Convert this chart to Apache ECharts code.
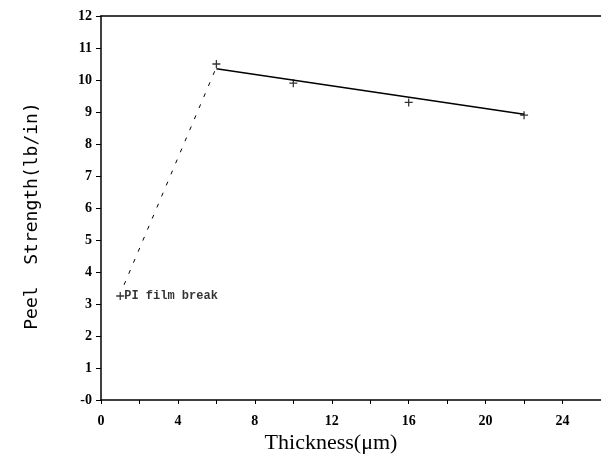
<!DOCTYPE html>
<html>
<head>
<meta charset="utf-8">
<script src="https://cdn.jsdelivr.net/npm/echarts@6/dist/echarts.min.js"></script>
<style>
  html, body { margin: 0; padding: 0; background: #fff; }
  #main { width: 601px; height: 466px; }
</style>
</head>
<body>
<div id="main"></div>
<script>
// measured points (thickness um, peel strength lb/in)
var thickness = [1, 6, 10, 16, 22];
var peel = [3.25, 10.5, 9.9, 9.3, 8.9];
// fitted line and the dashed guide
var fitX = [6, 22];
var fitY = [10.35, 8.93];
var dashX = [1.2, 6];
var dashY = [3.6, 10.4];
var noteText = 'PI film break';

function pairs(xs, ys) {
    var out = [];
    for (let i = 0; i < xs.length; i++) {
        out.push([xs[i], ys[i]]);
    }
    return out;
}

var myChart = echarts.init(document.getElementById('main'));
var labelFont = { fontFamily: 'Liberation Serif', fontWeight: 'bold', fontSize: 14, color: '#000' };

myChart.setOption({
    animation: false,
    grid: { left: 101, right: 0, top: 16, bottom: 66, outerBoundsMode: 'none' },
    xAxis: [{
        type: 'value',
        min: 0,
        max: 26,
        interval: 4,
        name: 'Thickness(\u03bcm)',
        nameLocation: 'middle',
        nameGap: 32,
        nameMoveOverlap: false,
        nameTextStyle: { fontFamily: 'Liberation Serif', fontSize: 22, color: '#000', padding: [0, 40, 0, 0] },
        axisLine: { lineStyle: { color: '#000', width: 1.5 } },
        axisTick: { inside: false, length: 4, lineStyle: { color: '#000' } },
        minorTick: { show: true, splitNumber: 2, length: 4, lineStyle: { color: '#000' } },
        axisLabel: Object.assign({ margin: 14, showMaxLabel: false }, labelFont),
        splitLine: { show: false }
    }, {
        type: 'value',
        position: 'top',
        min: 0,
        max: 26,
        axisLine: { show: true, lineStyle: { color: '#000', width: 1.5 } },
        axisTick: { show: false },
        axisLabel: { show: false },
        splitLine: { show: false }
    }],
    yAxis: {
        type: 'value',
        min: 0,
        max: 12,
        interval: 1,
        name: 'Peel  Strength(lb/in)',
        nameLocation: 'middle',
        nameGap: 60,
        nameMoveOverlap: false,
        nameTextStyle: { fontFamily: 'DejaVu Sans Mono', fontSize: 18, color: '#000', padding: [0, 16, 0, 0] },
        axisLine: { show: true, lineStyle: { color: '#000', width: 1.5 } },
        axisTick: { show: true, length: 5, lineStyle: { color: '#000' } },
        axisLabel: Object.assign({
            margin: 9,
            formatter: function (v) { return v === 0 ? '-0' : String(v); }
        }, labelFont),
        splitLine: { show: false }
    },
    series: [{
        type: 'line',
        data: pairs(fitX, fitY),
        showSymbol: false,
        lineStyle: { color: '#000', width: 1.5 },
        silent: true
    }, {
        type: 'line',
        data: pairs(dashX, dashY),
        showSymbol: false,
        lineStyle: { color: '#000', width: 1, type: [4, 8] },
        silent: true
    }, {
        type: 'scatter',
        data: pairs(thickness, peel),
        symbol: 'path://M0,4.2h10v1.6h-10z M4.2,0h1.6v10h-1.6z',
        symbolSize: 8,
        itemStyle: { color: '#000' },
        label: {
            show: true,
            position: 'right',
            distance: 0,
            formatter: function (p) { return p.dataIndex === 0 ? noteText : ''; },
            fontFamily: 'Liberation Mono',
            fontWeight: 'bold',
            fontSize: 12,
            color: '#000'
        }
    }]
});
</script>
</body>
</html>
